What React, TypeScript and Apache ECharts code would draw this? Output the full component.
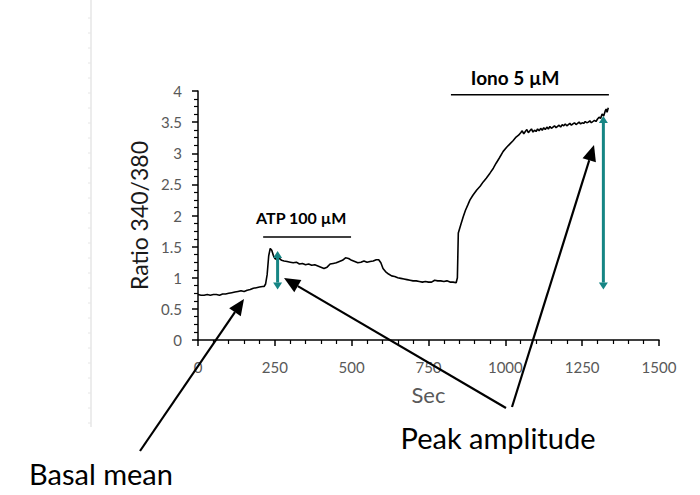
import React, { useEffect, useRef } from "react";
import * as echarts from "echarts";

// ---- data ----
const timeSec = [
  0, 10, 20, 30, 40, 50, 60, 70, 80, 90, 100, 110, 120, 130, 140, 150, 160, 170, 180, 190, 200, 210, 215,
  220, 225, 230, 235, 240, 245, 250, 258, 265, 272, 280, 290, 300, 310, 320, 330, 340, 350, 360, 370, 380,
  390, 400, 410, 420, 430, 440, 450, 460, 470, 480, 490, 500, 510, 520, 530, 540, 550, 560, 570, 580, 588,
  595, 602, 610, 620, 630, 640, 650, 660, 670, 680, 690, 700, 710, 720, 730, 740, 750, 760, 770, 780, 790,
  800, 810, 820, 830, 840, 844, 847, 855, 863, 870, 878, 885, 895, 907, 918, 928, 938, 950, 961, 970, 980,
  993, 1005, 1015, 1025, 1035, 1043,
  1050, 1055, 1060, 1065, 1070, 1075, 1080, 1085, 1090, 1095, 1100, 1105, 1110, 1115, 1120, 1125, 1130,
  1135, 1140, 1145, 1150, 1155, 1160, 1165, 1170, 1175, 1180, 1185, 1190, 1195, 1200, 1205, 1210, 1215,
  1220, 1225, 1230, 1235, 1240, 1245, 1250, 1255, 1260, 1265, 1270, 1275, 1280, 1285, 1290, 1295, 1300,
  1305, 1310, 1315, 1320, 1325, 1328, 1331, 1335,
];
const ratio = [
  0.73, 0.72, 0.72, 0.73, 0.72, 0.73, 0.73, 0.72, 0.74, 0.74, 0.75, 0.76, 0.77, 0.78, 0.79, 0.78, 0.8, 0.81,
  0.83, 0.84, 0.85, 0.86, 0.86, 0.9, 1.05, 1.35, 1.47, 1.44, 1.36, 1.31, 1.29, 1.31, 1.28, 1.27, 1.26, 1.25,
  1.24, 1.25, 1.22, 1.23, 1.21, 1.22, 1.2, 1.21, 1.19, 1.17, 1.15, 1.17, 1.22, 1.23, 1.24, 1.26, 1.28, 1.32,
  1.31, 1.28, 1.26, 1.24, 1.25, 1.27, 1.25, 1.26, 1.27, 1.29, 1.29, 1.24, 1.15, 1.1, 1.06, 1.03, 1.02, 1.0,
  0.99, 0.98, 0.97, 0.96, 0.95, 0.95, 0.94, 0.93, 0.94, 0.93, 0.93, 0.96, 0.95, 0.95, 0.94, 0.95, 0.93,
  0.93, 0.92, 1.0, 1.72, 1.85, 1.98, 2.08, 2.17, 2.25, 2.33, 2.41, 2.47, 2.54, 2.6, 2.68, 2.76, 2.84, 2.92,
  3.03, 3.1, 3.15, 3.2, 3.26, 3.29,
  3.33, 3.36, 3.31, 3.35, 3.38, 3.33, 3.36, 3.39, 3.34, 3.37, 3.35, 3.39, 3.36, 3.4, 3.37, 3.41, 3.38,
  3.42, 3.39, 3.43, 3.4, 3.42, 3.44, 3.41, 3.43, 3.45, 3.42, 3.46, 3.44, 3.47, 3.44, 3.46, 3.48, 3.45,
  3.47, 3.49, 3.46, 3.48, 3.5, 3.47, 3.49, 3.48, 3.51, 3.49, 3.5, 3.52, 3.49, 3.51, 3.53, 3.51, 3.55,
  3.58, 3.56, 3.63, 3.6, 3.68, 3.71, 3.66, 3.73,
];

// stimulus bars: label, start/end time (s)
const stimLabels = ["ATP 100 µM", "Iono 5 µM"];
const stimStart = [212, 823];
const stimEnd = [498, 1337];

// peak amplitude markers: time (s), from / to ratio
const ampTime = [259, 1319];
const ampFrom = [0.81, 0.81];
const ampTo = [1.43, 3.6];

const xTicks = [0, 250, 500, 750, 1000, 1250, 1500];
const yTicks = [0, 0.5, 1, 1.5, 2, 2.5, 3, 3.5, 4];

const FONT = "Lato, 'Open Sans', sans-serif";
const TEAL = "#168584";

type P = number[];

function arrowHead(tip: P, from: P, len: number, half: number, color: string) {
  const dx = tip[0] - from[0];
  const dy = tip[1] - from[1];
  const d = Math.hypot(dx, dy) || 1;
  const ux = dx / d, uy = dy / d;
  const bx = tip[0] - ux * len, by = tip[1] - uy * len;
  return {
    base: [bx, by],
    el: {
      type: "polygon",
      z: 20,
      shape: { points: [tip, [bx - uy * half, by + ux * half], [bx + uy * half, by - ux * half]] },
      style: { fill: color },
      silent: true,
    },
  };
}

function singleArrow(tail: P, tip: P, color: string, width: number, len: number, half: number) {
  const h = arrowHead(tip, tail, len, half, color);
  return [
    {
      type: "line",
      z: 20,
      shape: { x1: tail[0], y1: tail[1], x2: h.base[0], y2: h.base[1] },
      style: { stroke: color, lineWidth: width },
      silent: true,
    },
    h.el,
  ];
}

function doubleArrow(a: P, b: P, color: string, width: number, len: number, half: number) {
  const h1 = arrowHead(a, b, len, half, color);
  const h2 = arrowHead(b, a, len, half, color);
  return [
    {
      type: "line",
      z: 20,
      shape: { x1: h1.base[0], y1: h1.base[1], x2: h2.base[0], y2: h2.base[1] },
      style: { stroke: color, lineWidth: width },
      silent: true,
    },
    h1.el,
    h2.el,
  ];
}

export default function App() {
  const ref = useRef<HTMLDivElement>(null);
  useEffect(() => {
    document.body.style.margin = "0";
    if (!ref.current) return;
    const chart = echarts.init(ref.current, undefined, { renderer: "svg" });
    const axisCommon = {
      type: "value" as const,
      splitLine: { show: false },
      axisLine: { show: true, lineStyle: { color: "#000", width: 1.5 } },
      axisTick: { show: true, length: 6, lineStyle: { color: "#000", width: 1.5 } },
      axisLabel: { fontFamily: FONT, fontSize: 15, color: "#595959", formatter: (v: number) => String(v) },
    };
    chart.setOption({
      animation: false,
      grid: { left: 198, right: 41, top: 91, bottom: 155 },
      xAxis: {
        ...axisCommon,
        min: xTicks[0],
        max: xTicks[xTicks.length - 1],
        interval: xTicks[1] - xTicks[0],
        minorTick: { show: true, splitNumber: 5, length: 4, lineStyle: { color: "#000", width: 1.2 } },
        axisLabel: { ...axisCommon.axisLabel, margin: 19 },
        name: "Sec",
        nameLocation: "middle",
        nameGap: 43,
        nameTextStyle: { fontFamily: FONT, fontSize: 22, color: "#595959" },
      },
      yAxis: {
        ...axisCommon,
        min: yTicks[0],
        max: yTicks[yTicks.length - 1],
        interval: yTicks[1] - yTicks[0],
        minorTick: { show: true, splitNumber: 4, length: 4, lineStyle: { color: "#000", width: 1.2 } },
        axisLabel: { ...axisCommon.axisLabel, margin: 16 },
        name: "Ratio 340/380",
        nameLocation: "middle",
        nameGap: 40,
        nameTextStyle: { fontFamily: FONT, fontSize: 23, color: "#1a1a1a" },
      },
      series: [
        {
          type: "line",
          data: timeSec.map((t, i) => [t, ratio[i]]),
          symbol: "none",
          showSymbol: false,
          lineStyle: { color: "#000", width: 1.6 },
        },
      ],
    });

    const px = (t: number, v: number) => chart.convertToPixel({ gridIndex: 0 }, [t, v]) as number[];
    const g: any[] = [];

    // faint ruler line at the left
    g.push({ type: "line", shape: { x1: 91, y1: 0, x2: 91, y2: 427 }, style: { stroke: "#d9d9d9", lineWidth: 1 }, silent: true });
    for (let y = 18; y < 427; y += 15) {
      g.push({ type: "line", shape: { x1: 88, y1: y, x2: 91, y2: y }, style: { stroke: "#e6e6e6", lineWidth: 1 }, silent: true });
    }

    // stimulus bars + labels
    const barLevel = [1.655, 3.94];
    const labelT = [336, 1032];
    const labelLevel = [1.96, 4.22];
    const labelSize = [16, 19];
    stimLabels.forEach((lab, i) => {
      const a = px(stimStart[i], barLevel[i]);
      const b = px(stimEnd[i], barLevel[i]);
      g.push({ type: "line", shape: { x1: a[0], y1: a[1], x2: b[0], y2: b[1] }, style: { stroke: "#000", lineWidth: 1.5 }, silent: true });
      const c = px(labelT[i], labelLevel[i]);
      g.push({
        type: "text",
        x: c[0],
        y: c[1],
        style: { text: lab, fontFamily: FONT, fontSize: labelSize[i], fontWeight: "bold", fill: "#000", align: "center", verticalAlign: "middle" },
        silent: true,
      });
    });

    // peak amplitude (teal double arrows)
    ampTime.forEach((t, i) => {
      const a = px(t, ampTo[i]);
      const b = px(t, ampFrom[i]);
      g.push(...doubleArrow(a, b, TEAL, 3, 7, 4.5));
    });

    // black annotation arrows
    g.push(...singleArrow([140, 451], [244, 299], "#000", 2.2, 16, 7));
    g.push(...singleArrow([506, 408], [284, 278], "#000", 2.2, 16, 7));
    g.push(...singleArrow([512, 407], [594, 145], "#000", 2.2, 16, 7));

    // annotation texts
    g.push({
      type: "text",
      x: 498,
      y: 437,
      style: { text: "Peak amplitude", fontFamily: FONT, fontSize: 29, fill: "#000", align: "center", verticalAlign: "middle" },
      silent: true,
    });
    g.push({
      type: "text",
      x: 101,
      y: 473,
      style: { text: "Basal mean", fontFamily: FONT, fontSize: 29, fill: "#000", align: "center", verticalAlign: "middle" },
      silent: true,
    });

    chart.setOption({ graphic: g });
    return () => chart.dispose();
  }, []);
  return <div ref={ref} style={{ width: 700, height: 495 }} />;
}
